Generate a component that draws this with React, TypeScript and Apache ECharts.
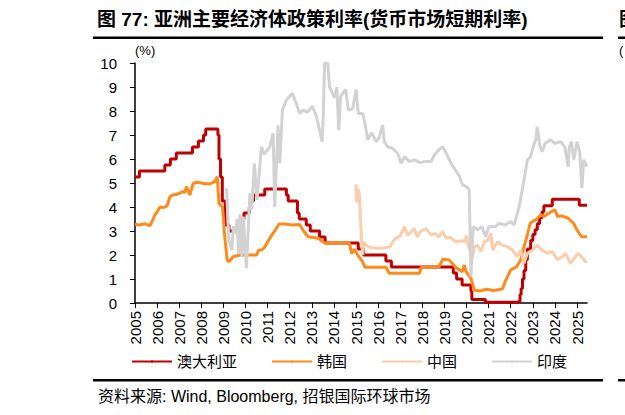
import { useEffect, useRef } from "react";
import * as echarts from "echarts";

const yearTicks = [2005, 2006, 2007, 2008, 2009, 2010, 2011, 2012, 2013, 2014, 2015, 2016, 2017, 2018, 2019, 2020, 2021, 2022, 2023, 2024, 2025];

// [decimal year, rate %]
const australia = [
  [2005.0, 5.25], [2005.2, 5.5], [2006.35, 5.75], [2006.6, 6.0], [2006.87, 6.25], [2007.6, 6.5], [2007.87, 6.75],
  [2008.1, 7.0], [2008.2, 7.25], [2008.75, 7.0], [2008.8, 6.0], [2008.87, 5.25], [2008.95, 4.25], [2009.08, 3.25],
  [2009.25, 3.0], [2009.77, 3.25], [2009.85, 3.5], [2009.93, 3.75], [2010.17, 4.0], [2010.25, 4.25], [2010.36, 4.5],
  [2010.87, 4.75], [2011.85, 4.5], [2011.93, 4.25], [2012.35, 3.75], [2012.43, 3.5], [2012.75, 3.25], [2012.93, 3.0],
  [2013.35, 2.75], [2013.6, 2.5], [2015.1, 2.25], [2015.33, 2.0], [2016.35, 1.75], [2016.6, 1.5], [2019.4, 1.25],
  [2019.55, 1.0], [2019.8, 0.75], [2020.2, 0.5], [2020.24, 0.15], [2020.85, 0.03], [2022.35, 0.06], [2022.42, 0.35],
  [2022.47, 0.6], [2022.53, 1.0], [2022.6, 1.35], [2022.68, 1.8], [2022.75, 2.25], [2022.9, 2.6], [2023.0, 2.85],
  [2023.1, 3.05], [2023.2, 3.3], [2023.3, 3.55], [2023.42, 3.8], [2023.5, 4.05], [2023.88, 4.32], [2025.1, 4.07],
  [2025.45, 4.07],
];

const korea = [
  [2005.0, 3.28], [2005.2, 3.25], [2005.45, 3.3], [2005.68, 3.22], [2005.8, 3.45], [2005.9, 3.67], [2006.0, 3.8],
  [2006.13, 4.0], [2006.3, 3.98], [2006.45, 4.05], [2006.58, 4.43], [2006.7, 4.5], [2006.85, 4.52], [2007.0, 4.57],
  [2007.15, 4.64], [2007.25, 4.6], [2007.33, 4.85], [2007.48, 4.5], [2007.63, 4.98], [2007.78, 5.03], [2008.0, 5.0],
  [2008.16, 4.97], [2008.4, 4.97], [2008.6, 5.05], [2008.72, 5.26], [2008.8, 4.15], [2008.96, 4.0], [2009.06, 2.76],
  [2009.17, 1.79], [2009.25, 1.72], [2009.44, 1.93], [2009.74, 2.0], [2010.5, 2.0], [2010.6, 2.2], [2010.75, 2.22],
  [2010.87, 2.33], [2011.0, 2.55], [2011.24, 2.9], [2011.35, 3.04], [2011.52, 3.29], [2011.8, 3.29], [2012.1, 3.25],
  [2012.45, 3.27], [2012.6, 3.04], [2012.83, 2.76], [2013.3, 2.7], [2013.58, 2.5], [2014.7, 2.5], [2014.8, 2.07],
  [2014.93, 2.24], [2015.1, 1.96], [2015.3, 1.72], [2015.4, 1.49], [2016.36, 1.49], [2016.5, 1.24], [2017.87, 1.24],
  [2017.95, 1.49], [2018.75, 1.5], [2018.92, 1.82], [2019.2, 1.8], [2019.5, 1.5], [2019.8, 1.3], [2019.9, 1.58],
  [2019.98, 1.3], [2020.2, 1.03], [2020.35, 0.54], [2020.6, 0.5], [2020.9, 0.57], [2021.2, 0.52], [2021.45, 0.55],
  [2021.63, 0.6], [2021.78, 0.96], [2022.0, 1.38], [2022.25, 1.5], [2022.45, 1.79], [2022.6, 2.35], [2022.73, 2.76],
  [2022.88, 3.32], [2023.0, 3.4], [2023.14, 3.47], [2023.35, 3.67], [2023.5, 3.6], [2023.7, 3.74], [2024.0, 3.88],
  [2024.12, 3.6], [2024.3, 3.63], [2024.6, 3.53], [2024.84, 3.32], [2025.0, 3.04], [2025.2, 2.76], [2025.45, 2.76],
];

const china = [
  [2015.0, 4.95], [2015.03, 4.2], [2015.08, 4.75], [2015.15, 4.55], [2015.25, 2.6], [2015.3, 2.0], [2015.35, 2.55],
  [2015.45, 2.4], [2015.7, 2.3], [2016.0, 2.28], [2016.3, 2.3], [2016.55, 2.35], [2016.66, 2.55], [2016.8, 2.7],
  [2017.0, 2.8], [2017.19, 3.18], [2017.33, 2.83], [2017.5, 2.97], [2017.63, 3.1], [2017.78, 2.76], [2017.93, 3.0],
  [2018.17, 3.1], [2018.4, 2.83], [2018.6, 2.9], [2018.75, 2.75], [2018.92, 2.97], [2019.07, 2.7], [2019.22, 2.76],
  [2019.52, 2.55], [2019.8, 2.6], [2019.9, 2.55], [2020.0, 2.8], [2020.05, 2.5], [2020.25, 1.86], [2020.35, 2.35],
  [2020.5, 2.4], [2020.65, 2.14], [2020.8, 2.55], [2020.95, 2.6], [2021.1, 2.9], [2021.18, 2.2], [2021.4, 2.55],
  [2021.63, 2.4], [2021.85, 2.35], [2022.08, 2.2], [2022.3, 1.93], [2022.45, 2.2], [2022.6, 1.65], [2022.75, 2.07],
  [2022.98, 2.2], [2023.2, 2.42], [2023.42, 2.2], [2023.65, 2.07], [2023.88, 2.14], [2024.11, 1.8], [2024.33, 1.93],
  [2024.48, 2.07], [2024.7, 1.65], [2024.93, 1.93], [2025.06, 2.07], [2025.2, 1.93], [2025.37, 1.72], [2025.45, 1.75],
];

const india = [
  [2009.14, 4.78], [2009.25, 2.6], [2009.38, 2.2], [2009.45, 3.2], [2009.55, 2.9], [2009.62, 3.5], [2009.68, 2.07],
  [2009.75, 3.7], [2009.84, 1.93], [2009.9, 3.6], [2010.04, 1.45], [2010.15, 3.6], [2010.2, 4.57], [2010.28, 3.9],
  [2010.4, 5.82], [2010.52, 4.3], [2010.72, 6.51], [2010.85, 6.2], [2011.1, 6.5], [2011.25, 7.07], [2011.32, 4.0],
  [2011.47, 7.4], [2011.55, 5.82], [2011.67, 8.04], [2011.85, 8.46], [2012.12, 8.74], [2012.3, 8.3], [2012.45, 7.9],
  [2012.6, 8.04], [2012.8, 7.95], [2013.02, 8.2], [2013.2, 7.8], [2013.47, 6.72], [2013.52, 7.9], [2013.58, 10.0],
  [2013.72, 10.0], [2013.8, 9.0], [2014.03, 8.55], [2014.13, 9.0], [2014.22, 7.2], [2014.3, 8.6], [2014.53, 8.9],
  [2014.65, 8.04], [2014.85, 8.1], [2015.0, 8.9], [2015.1, 7.9], [2015.3, 7.9], [2015.42, 7.42], [2015.53, 6.8],
  [2015.7, 7.1], [2015.92, 6.72], [2016.05, 6.9], [2016.2, 7.42], [2016.28, 6.72], [2016.43, 6.51], [2016.65, 6.45],
  [2016.88, 6.24], [2017.04, 5.82], [2017.2, 6.1], [2017.4, 5.9], [2017.64, 5.96], [2017.9, 5.85], [2018.17, 5.9],
  [2018.4, 5.9], [2018.54, 6.17], [2018.75, 6.38], [2018.92, 6.51], [2019.05, 6.3], [2019.3, 5.82], [2019.45, 5.6],
  [2019.67, 5.3], [2019.82, 4.92], [2020.0, 4.85], [2020.12, 4.7], [2020.2, 1.1], [2020.3, 3.18], [2020.5, 3.05],
  [2020.7, 3.18], [2020.87, 2.76], [2021.0, 3.18], [2021.3, 3.18], [2021.48, 3.32], [2021.75, 3.25], [2022.0, 3.39],
  [2022.15, 3.25], [2022.38, 4.0], [2022.6, 5.12], [2022.75, 5.96], [2022.9, 6.1], [2023.06, 6.65], [2023.13, 6.8],
  [2023.2, 7.35], [2023.3, 6.6], [2023.42, 6.3], [2023.55, 6.65], [2023.8, 6.8], [2024.0, 6.65], [2024.26, 6.72],
  [2024.45, 6.5], [2024.6, 5.68], [2024.65, 6.51], [2024.75, 6.72], [2024.85, 5.96], [2025.0, 6.72], [2025.12, 6.3],
  [2025.22, 4.78], [2025.3, 5.96], [2025.45, 5.68],
];

const font = "'Liberation Sans', Arial, 'Noto Sans CJK SC', sans-serif";

export default function App() {
  const ref = useRef<HTMLDivElement | null>(null);

  useEffect(() => {
    document.body.style.margin = "0";
    if (!ref.current) return;
    const chart = echarts.init(ref.current, null, { renderer: "svg" });
    chart.setOption({
      animation: false,
      backgroundColor: "#fff",
      textStyle: { fontFamily: font, color: "#000" },
      grid: { left: 135, right: 38, top: 63, bottom: 112 },
      graphic: [
        { type: "text", left: 97, top: 10, style: { text: "图 77: 亚洲主要经济体政策利率(货币市场短期利率)", font: `bold 19px ${font}`, fill: "#000" } },
        { type: "rect", shape: { x: 93, y: 36.5, width: 510, height: 2.5 }, style: { fill: "#000" } },
        { type: "rect", shape: { x: 618, y: 36.5, width: 10, height: 2.5 }, style: { fill: "#000" } },
        { type: "text", left: 619, top: 10, style: { text: "图", font: `bold 19px ${font}`, fill: "#000" } },
        { type: "text", left: 619, top: 44, style: { text: "(", font: `13px ${font}`, fill: "#000" } },
        { type: "rect", shape: { x: 93, y: 379, width: 510, height: 2.5 }, style: { fill: "#000" } },
        { type: "rect", shape: { x: 618, y: 379, width: 10, height: 2.5 }, style: { fill: "#000" } },
        { type: "text", left: 98, top: 388, style: { text: "资料来源: Wind, Bloomberg, 招银国际环球市场", font: `16px ${font}`, fill: "#000" } },
      ],
      legend: {
        left: 131,
        top: 354,
        padding: 0,
        itemWidth: 40,
        itemHeight: 3,
        itemGap: 34,
        textStyle: { fontSize: 15, color: "#000", fontFamily: font },
        data: ["澳大利亚", "韩国", "中国", "印度"],
      },
      xAxis: {
        type: "value",
        min: 2005,
        max: 2025.45,
        interval: 1,
        splitLine: { show: false },
        axisLine: { lineStyle: { color: "#000", width: 1.5 } },
        axisTick: { show: true, length: 5, customValues: yearTicks, lineStyle: { color: "#000" } },
        axisLabel: { rotate: 90, margin: 8, fontSize: 15, color: "#000", customValues: yearTicks, formatter: (v: number) => String(Math.round(v)) },
      },
      yAxis: {
        type: "value",
        min: 0,
        max: 10,
        interval: 1,
        name: "(%)",
        nameLocation: "end",
        nameGap: 6,
        nameTextStyle: { fontSize: 13, color: "#000", align: "left", fontFamily: font },
        splitLine: { show: false },
        axisLine: { show: true, lineStyle: { color: "#000", width: 1.5 } },
        axisTick: { show: true, length: 5, lineStyle: { color: "#000" } },
        axisLabel: { margin: 18, fontSize: 15, color: "#000" },
      },
      series: [
        { name: "澳大利亚", type: "line", step: "end", symbol: "none", data: australia, lineStyle: { color: "#C00000", width: 3 }, itemStyle: { color: "#C00000" } },
        { name: "韩国", type: "line", symbol: "none", data: korea, lineStyle: { color: "#FF8A1C", width: 3 }, itemStyle: { color: "#FF8A1C" } },
        { name: "中国", type: "line", symbol: "none", data: china, lineStyle: { color: "#FBCDAA", width: 3 }, itemStyle: { color: "#FBCDAA" } },
        { name: "印度", type: "line", symbol: "none", data: india, lineStyle: { color: "#D2D2D2", width: 3 }, itemStyle: { color: "#D2D2D2" } },
      ],
    });
    return () => chart.dispose();
  }, []);

  return <div ref={ref} style={{ width: 625, height: 415 }} />;
}
